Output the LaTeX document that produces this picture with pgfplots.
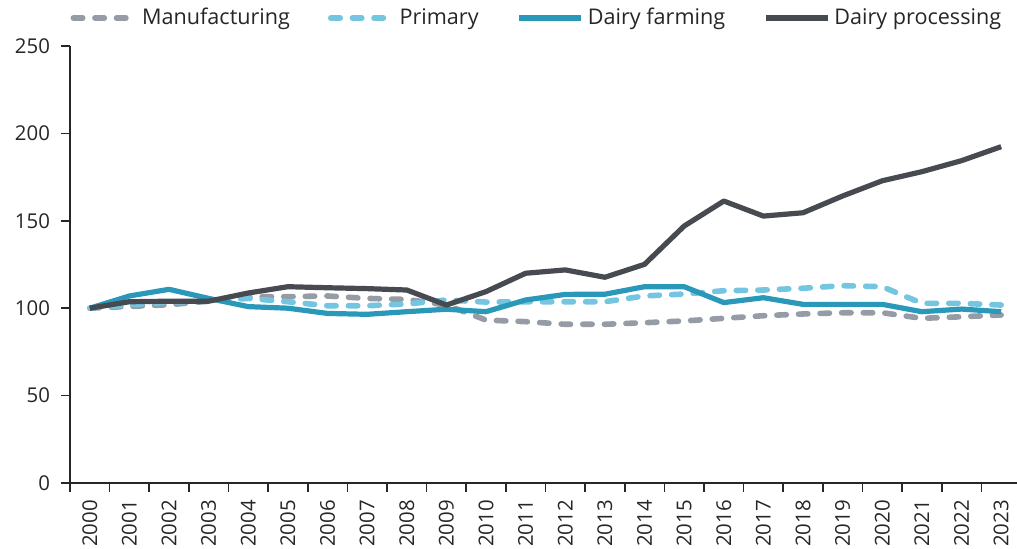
\documentclass[border=0pt]{standalone}
\usepackage{fontspec}
\setmainfont{Open Sans}
\usepackage{pgfplots}
\pgfplotsset{compat=1.18}
\definecolor{cman}{HTML}{959CA5}
\definecolor{cprim}{HTML}{74C5E0}
\definecolor{cfarm}{HTML}{2A98B8}
\definecolor{cproc}{HTML}{474A51}
\definecolor{ctxt}{HTML}{262626}
\begin{document}
\begin{tikzpicture}
\begin{axis}[
  scale only axis, width=473.5bp, height=218.5bp,
  at={(0,0)}, anchor=south west,
  xmin=-0.5, xmax=23.4, ymin=0, ymax=250,
  axis lines=left, axis line style={-, line width=0.8bp, color=ctxt},
  ytick={0,50,...,250},
  xtick={-0.5,0.5,...,23.5}, xticklabels={},
  extra x ticks={0,1,...,23},
  extra x tick labels={2000,2001,2002,2003,2004,2005,2006,2007,2008,2009,2010,2011,2012,2013,2014,2015,2016,2017,2018,2019,2020,2021,2022,2023},
  extra x tick style={major tick length=0pt, tick label style={rotate=90, anchor=east, xshift=-5bp}},
  major tick length=4.5bp,
  tick align=outside,
  tick style={ctxt, line width=0.8bp},
  tick label style={font=\fontsize{10.2bp}{12bp}\selectfont, text=ctxt},
  yticklabel style={xshift=-2bp},
  /pgf/number format/assume math mode=true,
  legend style={at={(0.494,1.064)}, anchor=center, draw=none, fill=none,
    font=\fontsize{10.8bp}{13bp}\selectfont, text=ctxt,
    /tikz/every even column/.append style={column sep=17bp}},
  legend columns=4, legend cell align=left,
  legend image code/.code={\draw[#1] (0bp,0bp) -- (31bp,0bp);},
  clip=false,
]
\addplot[cman, line width=2.8bp, dash pattern=on 4.7bp off 6.1bp, line cap=round, line join=round] coordinates {
(0,100)(1,101)(2,102)(3,104)(4,106.6)(5,106.6)(6,107)(7,105.6)(8,105)(9,101.8)(10,93.2)(11,92.3)(12,90.8)(13,90.8)(14,91.7)(15,92.7)(16,94.2)(17,95.7)(18,96.7)(19,97.4)(20,97.4)(21,94.2)(22,95.1)(23,96.1)};
\addlegendentry{Manufacturing}
\addplot[cprim, line width=2.8bp, dash pattern=on 4.7bp off 6.1bp, line cap=round, line join=round] coordinates {
(0,100)(1,102)(2,103.5)(3,104)(4,105.6)(5,103.7)(6,101.4)(7,101.4)(8,102.4)(9,104.7)(10,103.5)(11,103.7)(12,103.7)(13,103.7)(14,107)(15,108.1)(16,110)(17,110.4)(18,111.4)(19,112.9)(20,112.3)(21,102.8)(22,102.8)(23,101.8)};
\addlegendentry{Primary}
\addplot[cfarm, line width=2.6bp, line join=round] coordinates {
(0,100)(1,107)(2,110.8)(3,105.6)(4,100.9)(5,100)(6,97)(7,96.5)(8,98)(9,99.4)(10,98)(11,104.7)(12,107.9)(13,108)(14,112.3)(15,112.3)(16,103.2)(17,106)(18,102.2)(19,102.2)(20,102.2)(21,98)(22,99.5)(23,98)};
\addlegendentry{Dairy farming}
\addplot[cproc, line width=2.6bp, line join=round] coordinates {
(0,100)(1,103.7)(2,104)(3,104)(4,108.7)(5,112.3)(6,111.7)(7,111.2)(8,110.4)(9,101.8)(10,109.5)(11,120)(12,121.9)(13,117.7)(14,125.1)(15,147)(16,161.3)(17,152.7)(18,154.6)(19,164.2)(20,172.9)(21,178.1)(22,184.4)(23,192.4)};
\addlegendentry{Dairy processing}
\end{axis}
\pgfresetboundingbox
\useasboundingbox (-35bp,-33bp) rectangle (473.5bp,241.5bp);
\end{tikzpicture}
\end{document}
